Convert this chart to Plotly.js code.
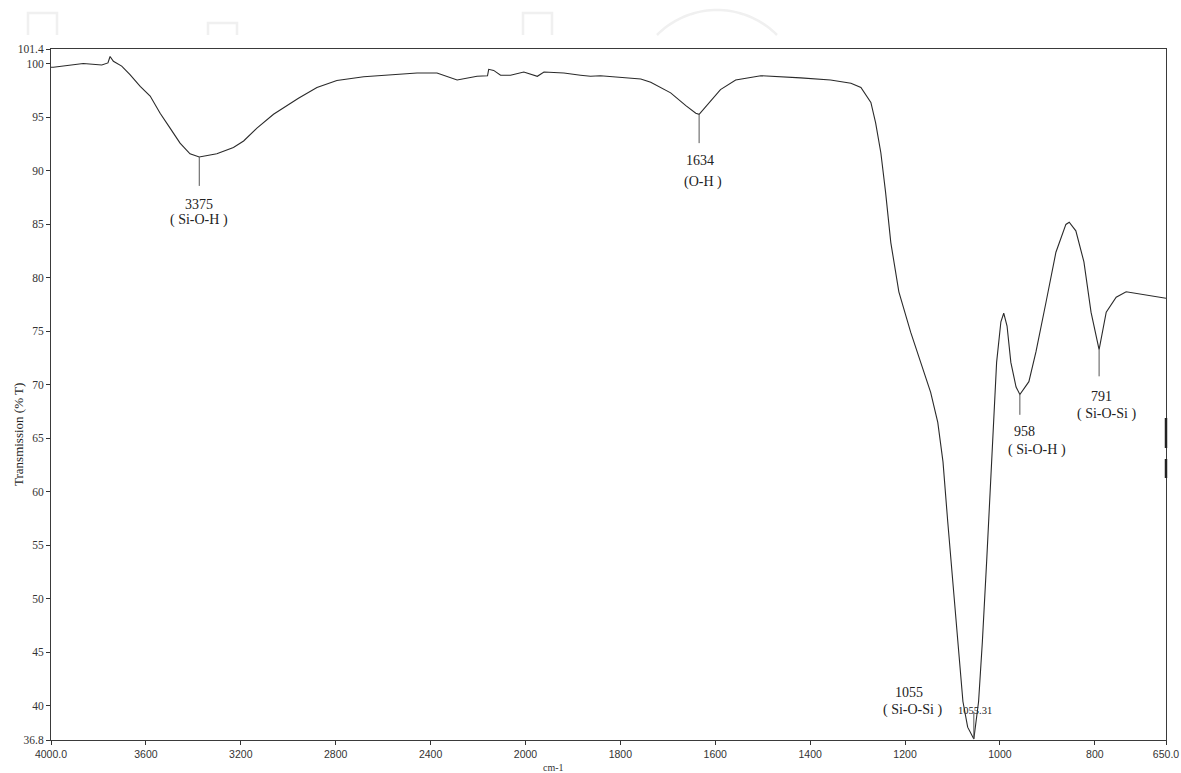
<!DOCTYPE html>
<html>
<head>
<meta charset="utf-8">
<script src="https://cdn.plot.ly/plotly-3.0.1.min.js"></script>
<style>html,body{margin:0;padding:0;background:#fff;}#chart{width:1181px;height:773px;}</style>
</head>
<body>
<div id="chart"></div>
<script>
// Wavenumber (cm-1) and transmission (% T)
const wavenumbers = [4000,3990,3864,3786,3760,3751,3737,3702,3667,3624,3582,3540,3498,3456,3414,3375,3301,3231,3188,3132,3062,2957,2879,2795,2682,2570,2457,2373,2330,2288,2204,2160,2155,2134,2105,2063,2007,1975,1961,1919,1884,1863,1842,1757,1736,1694,1662,1641,1634,1620,1610,1589,1557,1504,1420,1357,1314,1293,1272,1262,1251,1241,1230,1213,1188,1167,1146,1131,1120,1110,1099,1089,1078,1068,1055,1045,1037,1028,1019,1013,1007,998,992,985,977,966,958,939,924,903,882,861,854,840,823,808,791,776,755,734,703,671,650];
const transmission = [99.7,99.7,100.05,99.9,100.1,100.7,100.25,99.8,99.0,97.9,97.0,95.4,94.0,92.6,91.6,91.3,91.6,92.2,92.8,94.0,95.3,96.8,97.8,98.45,98.8,99.0,99.15,99.15,98.85,98.5,98.85,98.9,99.5,99.4,98.95,98.95,99.25,98.85,99.25,99.15,98.95,98.85,98.9,98.6,98.3,97.3,96.1,95.4,95.3,96.0,96.6,97.6,98.5,98.9,98.7,98.5,98.2,97.8,96.4,94.5,91.7,88.0,83.3,78.7,74.9,72.1,69.3,66.5,62.8,57.2,51.6,46.0,40.4,38.0,36.9,40.4,46.0,53.5,61.0,66.5,72.1,75.9,76.7,75.5,72.1,69.8,69.1,70.3,73.1,77.7,82.4,85.0,85.2,84.4,81.5,76.8,73.3,76.8,78.2,78.7,78.5,78.3,78.1];

// Axis ticks
const xTickLabels = ["4000.0","3600","3200","2800","2400","2000","1800","1600","1400","1200","1000","800","650.0"];
const xTickValues = [4000,3600,3200,2800,2400,2000,1800,1600,1400,1200,1000,800,650];
const yTickValues = [36.8,40,45,50,55,60,65,70,75,80,85,90,95,100,101.4];
const yTickLabels = ["36.8","40","45","50","55","60","65","70","75","80","85","90","95","100","101.4"];

// Peak labels
const peakWn = [3375,1634,1055,958,791];
const peakNum = ["3375","1634","1055","958","791"];
const peakGroup = ["( Si-O-H )","(O-H )","( Si-O-Si )","( Si-O-H )","( Si-O-Si )"];

// Instrument-style axis: scale changes at 2000 cm-1 (2x expansion below)
function u(wn){ return wn >= 2000 ? (4000 - wn) / 2 : 1000 + (2000 - wn); }

const serif = "Liberation Serif, Times New Roman, serif";
const L = 51, R = 15, T = 49, B = 33, W = 1181, H = 773;
const pw = W - L - R, ph = H - T - B;
function px(x){ return (x - L) / pw; }
function py(y){ return (H - B - y) / ph; }

const trace = {
  x: wavenumbers.map(u),
  y: transmission,
  type: "scatter",
  mode: "lines",
  line: {color: "#2a2a2a", width: 1.1},
  hoverinfo: "skip"
};

// annotation geometry (data units)
const textPos = [
  {nx:u(3375), ny:86.9, gx:u(3375), gy:85.4, l0:91.3, l1:88.6},
  {nx:u(1634)+2, ny:91.0, gx:u(1634)+8, gy:89.0, l0:95.3, l1:92.6},
  {nx:1808, ny:41.2, gx:1816, gy:39.6, l0:36.9, l1:39.4},
  {nx:u(958)+10, ny:65.6, gx:u(958)+36, gy:63.9, l0:69.1, l1:67.2},
  {nx:u(791)+6, ny:68.9, gx:u(791)+16, gy:67.3, l0:73.3, l1:70.8}
];

const annotations = [];
const shapes = [];
peakWn.forEach((wn, i) => {
  const p = textPos[i];
  annotations.push({x:p.nx, y:p.ny, xref:"x", yref:"y", text:peakNum[i], showarrow:false,
    font:{family:serif, size:14, color:"#222"}});
  annotations.push({x:p.gx, y:p.gy, xref:"x", yref:"y", text:peakGroup[i], showarrow:false,
    font:{family:serif, size:14, color:"#222"}});
  shapes.push({type:"line", xref:"x", yref:"y", x0:u(wn), x1:u(wn), y0:p.l0, y1:p.l1,
    line:{color:"#555", width:1}});
});
annotations.push({x:u(1055)+2, y:39.6, xref:"x", yref:"y", text:"1055.31", showarrow:false,
  font:{family:serif, size:10.5, color:"#222"}});
annotations.push({x:px(18), y:py(435), xref:"paper", yref:"paper", xanchor:"center", yanchor:"middle",
  text:"Transmission (% T)", textangle:-90, showarrow:false,
  font:{family:serif, size:13, color:"#222"}});
annotations.push({x:px(553), y:py(767), xref:"paper", yref:"paper", xanchor:"center", yanchor:"middle",
  text:"cm-1", showarrow:false, font:{family:serif, size:10, color:"#333"}});

// faint background logo fragments at the top
const wm = {color:"#f0f0f0", width:2.5};
[[28,57,13],[208,237,23],[523,552,13]].forEach(r => {
  shapes.push({type:"path", xref:"paper", yref:"paper", layer:"below", line:wm,
    path:`M ${px(r[0])},${py(35)} L ${px(r[0])},${py(r[2])} L ${px(r[1])},${py(r[2])} L ${px(r[1])},${py(35)}`});
});
(function(){
  const cx = 717, cy = 94.5, rr = 84.5;
  const a0 = Math.acos(60/rr);
  let d = "";
  for (let k = 0; k <= 40; k++) {
    const a = Math.PI - a0 - (Math.PI - 2*a0) * k / 40;
    const x = cx + rr*Math.cos(a), y = cy - rr*Math.sin(a);
    d += (k === 0 ? "M " : " L ") + px(x) + "," + py(y);
  }
  shapes.push({type:"path", xref:"paper", yref:"paper", layer:"below", line:wm, path:d});
})();
// scanner artefacts: thicker pieces of the right frame
[[418,448],[459,478]].forEach(s => {
  shapes.push({type:"line", xref:"paper", yref:"paper", x0:1, x1:1, y0:py(s[0]), y1:py(s[1]),
    line:{color:"#222", width:2.5}});
});

const layout = {
  width: W, height: H,
  margin: {l:L, r:R, t:T, b:B, pad:0},
  paper_bgcolor: "#fff", plot_bgcolor: "#fff",
  showlegend: false,
  xaxis: {
    range: [u(4000), u(650)],
    tickmode: "array", tickvals: xTickValues.map(u), ticktext: xTickLabels,
    ticks: "outside", ticklen: 4, tickcolor: "#333",
    showline: true, linecolor: "#3a3a3a", linewidth: 1, mirror: true,
    showgrid: false, zeroline: false,
    tickfont: {family:"Liberation Sans, Arial, sans-serif", size:10.5, color:"#333"}
  },
  yaxis: {
    range: [36.8, 101.4],
    tickmode: "array", tickvals: yTickValues, ticktext: yTickLabels,
    ticks: "outside", ticklen: 4, tickcolor: "#333",
    showline: true, linecolor: "#3a3a3a", linewidth: 1, mirror: true,
    showgrid: false, zeroline: false,
    tickfont: {family:serif, size:11.5, color:"#333"}
  },
  annotations: annotations,
  shapes: shapes
};

Plotly.newPlot("chart", [trace], layout, {displayModeBar:false, staticPlot:true});
</script>
</body>
</html>
